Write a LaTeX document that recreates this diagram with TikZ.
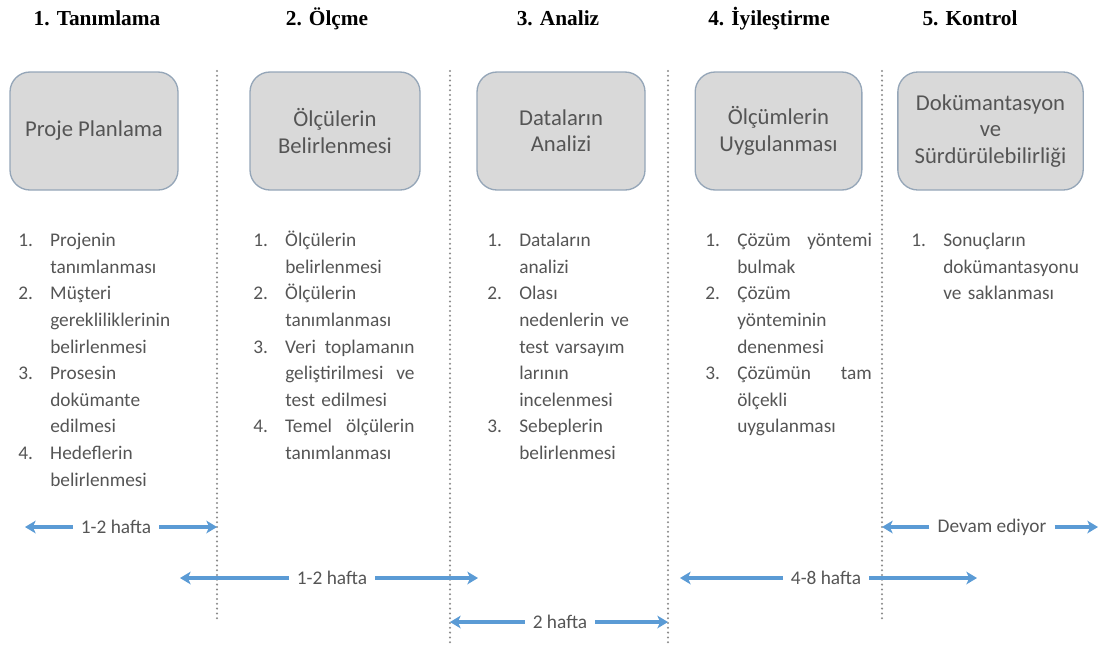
\documentclass[tikz,border=0pt]{standalone}
\usepackage{fontspec}
\setmainfont{Carlito}
\newfontfamily\titlefont{Liberation Serif}
\usetikzlibrary{positioning}
\usetikzlibrary{arrows.meta}
\definecolor{boxfill}{HTML}{D9D9D9}
\definecolor{boxline}{HTML}{95A6B8}
\definecolor{textgray}{HTML}{555555}
\definecolor{durblue}{HTML}{5B9BD5}
\definecolor{sepgray}{HTML}{8C8C8C}
\newlength{\numw}
\setlength{\numw}{24pt}
\newcommand{\li}[2]{\par\noindent\hangindent=\numw\hangafter=1\makebox[\numw][l]{#1}#2\par}
\tikzset{
    phasetitle/.style = {anchor=base, font=\titlefont\bfseries\fontsize{16}{19}\selectfont},
    phase/.style = {rectangle, rounded corners=15pt, draw=boxline, line width=1pt, fill=boxfill, minimum height=88.5pt, align=center, text=textgray, font=\fontsize{17}{19.8}\selectfont},
    steplist/.style = {anchor=base west, inner sep=0pt, align=left, text=textgray, font=\fontsize{14.5}{19.95}\selectfont},
    sep/.style = {draw=sepgray, line width=1.7pt, line cap=round, dash pattern=on 0pt off 3.6pt},
    dur/.style = {text=textgray, font=\fontsize{14.5}{17}\selectfont, inner sep=6pt},
    durarrow/.style = {draw=durblue, line width=2.3pt, -{Stealth[length=8pt,width=9.5pt,inset=2.2pt]}},
}

\begin{document}
\begin{tikzpicture}[x=0.75pt,y=-0.75pt]
\useasboundingbox (0,0) rectangle (1106,644);
%
\node[phasetitle] (t1) at (97,25) {1. Tanımlama};
\node[phasetitle] (t2) at (327,25) {2. Ölçme};
\node[phasetitle] (t3) at (558,25) {3. Analiz};
\node[phasetitle] (t4) at (769,25) {4. İyileştirme};
\node[phasetitle] (t5) at (970,25) {5. Kontrol};
%
\node[phase, minimum width=126pt] (b1) at (94,131) {Proje Planlama};
\node[phase, minimum width=127.5pt] (b2) at (335,131) {Ölçülerin\\Belirlenmesi};
\node[phase, minimum width=126pt] (b3) at (561,131) {Dataların\\Analizi};
\node[phase, minimum width=125pt] (b4) at (778.5,131) {Ölçümlerin\\Uygulanması};
\node[phase, minimum width=139pt] (b5) at (990.5,131) {Dokümantasyon\\ve\\Sürdürülebilirliği};
%
\coordinate (s1a) at (217,71);
\coordinate (s1b) at (217,622);
\coordinate (s2a) at (450,71);
\coordinate (s2b) at (450,644);
\coordinate (s3a) at (668,71);
\coordinate (s3b) at (668,644);
\coordinate (s4a) at (882,71);
\coordinate (s4b) at (882,622);
\draw[sep] (s1a) -- (s1b);
\draw[sep] (s2a) -- (s2b);
\draw[sep] (s3a) -- (s3b);
\draw[sep] (s4a) -- (s4b);
%
\node[steplist, text width=124pt] (l1) at (18,220) {%
\li{1.}{Projenin\newline tanımlanması}
\li{2.}{Müşteri\newline gerekliliklerinin\newline belirlenmesi}
\li{3.}{Prosesin\newline dokümante\newline edilmesi}
\li{4.}{Hedeflerin\newline belirlenmesi}};
\node[steplist, text width=121pt] (l2) at (253,220) {%
\li{1.}{Ölçülerin\newline belirlenmesi}
\li{2.}{Ölçülerin\newline tanımlanması}
\li{3.}{Veri\hfill toplamanın\newline geliştirilmesi\hfill ve\newline test edilmesi}
\li{4.}{Temel\hfill ölçülerin\newline tanımlanması}};
\node[steplist, text width=124pt] (l3) at (487,220) {%
\li{1.}{Dataların\newline analizi}
\li{2.}{Olası\newline nedenlerin ve\newline test varsayım\newline larının\newline incelenmesi}
\li{3.}{Sebeplerin\newline belirlenmesi}};
\node[steplist, text width=125pt] (l4) at (705,220) {%
\li{1.}{Çözüm\hfill yöntemi\newline bulmak}
\li{2.}{Çözüm\newline yönteminin\newline denenmesi}
\li{3.}{Çözümün\hfill tam\newline ölçekli\newline uygulanması}};
\node[steplist, text width=139pt] (l5) at (911,220) {%
\li{1.}{Sonuçların\newline dokümantasyonu\newline ve saklanması}};
%
\node[dur] (d1) at (116,527) {1-2 hafta};
\coordinate (d1w) at (25,527);
\draw[durarrow] (d1) -- (d1w);
\draw[durarrow] (d1) -- (d1 -| s1a);
%
\node[dur] (d2) at (332,578) {1-2 hafta};
\coordinate (d2w) at (180,578);
\coordinate (d2e) at (478,578);
\draw[durarrow] (d2) -- (d2w);
\draw[durarrow] (d2) -- (d2e);
%
\node[dur] (d3) at (560,622) {2 hafta};
\draw[durarrow] (d3) -- (d3 -| s2a);
\draw[durarrow] (d3) -- (d3 -| s3a);
%
\node[dur] (d4) at (826,578) {4-8 hafta};
\coordinate (d4w) at (680,578);
\coordinate (d4e) at (977,578);
\draw[durarrow] (d4) -- (d4w);
\draw[durarrow] (d4) -- (d4e);
%
\node[dur] (d5) at (992,527) {Devam ediyor};
\coordinate (d5e) at (1098,527);
\draw[durarrow] (d5) -- (d5 -| s4a);
\draw[durarrow] (d5) -- (d5e);

\end{tikzpicture}
\end{document}
